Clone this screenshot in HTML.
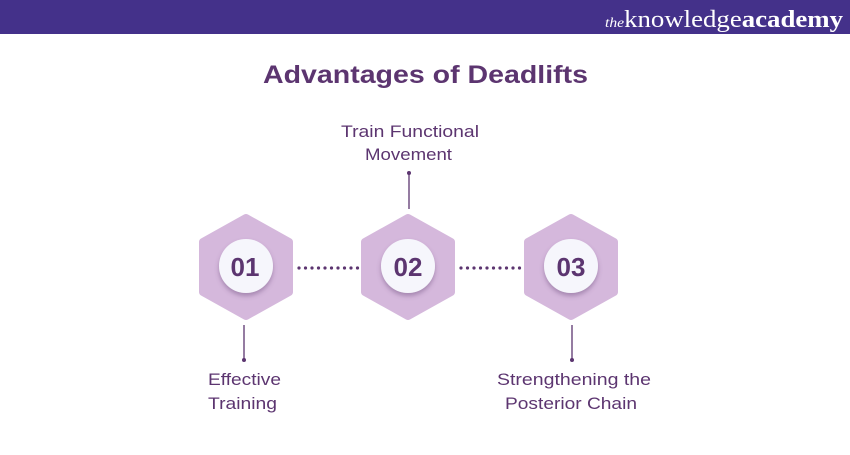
<!DOCTYPE html>
<html><head><meta charset="utf-8"><style>
html,body{margin:0;padding:0;background:#fff;}
body{width:850px;height:450px;overflow:hidden;}
</style></head><body>
<svg width="850" height="450" xmlns="http://www.w3.org/2000/svg" font-family="Liberation Sans, sans-serif">
<defs>
<filter id="sh" x="-30%" y="-30%" width="160%" height="170%"><feDropShadow dx="0" dy="3" stdDeviation="2.5" flood-color="#6a4a7a" flood-opacity="0.45"/></filter>
</defs>
<rect x="0" y="0" width="850" height="34" fill="#44318a"/>
<text x="605" y="27" fill="#fff" font-family="Liberation Serif, serif" font-size="24" textLength="238" lengthAdjust="spacingAndGlyphs"><tspan font-size="14" font-style="italic">the</tspan><tspan>knowledge</tspan><tspan font-weight="bold">academy</tspan></text>
<text x="263" y="83" fill="#5c3570" font-size="25" font-weight="bold" textLength="325" lengthAdjust="spacingAndGlyphs">Advantages of Deadlifts</text>
<g fill="#5c3570">
<circle cx="299" cy="268" r="1.6"/><circle cx="305.5" cy="268" r="1.6"/><circle cx="312" cy="268" r="1.6"/><circle cx="318.5" cy="268" r="1.6"/><circle cx="325" cy="268" r="1.6"/><circle cx="331.5" cy="268" r="1.6"/><circle cx="338" cy="268" r="1.6"/><circle cx="344.5" cy="268" r="1.6"/><circle cx="351" cy="268" r="1.6"/><circle cx="357.5" cy="268" r="1.6"/>
<circle cx="461" cy="268" r="1.6"/><circle cx="467.5" cy="268" r="1.6"/><circle cx="474" cy="268" r="1.6"/><circle cx="480.5" cy="268" r="1.6"/><circle cx="487" cy="268" r="1.6"/><circle cx="493.5" cy="268" r="1.6"/><circle cx="500" cy="268" r="1.6"/><circle cx="506.5" cy="268" r="1.6"/><circle cx="513" cy="268" r="1.6"/><circle cx="519.5" cy="268" r="1.6"/>
</g>
<g fill="#d5b8dc" stroke="#d5b8dc" stroke-width="8" stroke-linejoin="round">
<path d="M246,218 L289,242 L289,292 L246,316 L203,292 L203,242 Z"/>
<path d="M408,218 L451,242 L451,292 L408,316 L365,292 L365,242 Z"/>
<path d="M571,218 L614,242 L614,292 L571,316 L528,292 L528,242 Z"/>
</g>
<g fill="#f6f6fc" filter="url(#sh)">
<circle cx="246" cy="266" r="27"/><circle cx="408" cy="266" r="27"/><circle cx="571" cy="266" r="27"/>
</g>
<g fill="#5c3570" font-size="26" font-weight="bold" text-anchor="middle">
<text x="245" y="276">01</text><text x="408" y="276">02</text><text x="571" y="276">03</text>
</g>
<g stroke="#5c3570" stroke-width="1.3">
<line x1="409" y1="173" x2="409" y2="209"/>
<line x1="244" y1="325" x2="244" y2="360"/>
<line x1="572" y1="325" x2="572" y2="360"/>
</g>
<g fill="#5c3570"><circle cx="409" cy="173" r="2"/><circle cx="244" cy="360" r="2"/><circle cx="572" cy="360" r="2"/></g>
<g fill="#5c3570" font-size="17">
<text x="341" y="137" textLength="138" lengthAdjust="spacingAndGlyphs">Train Functional</text>
<text x="365" y="160" textLength="87" lengthAdjust="spacingAndGlyphs">Movement</text>
<text x="208" y="385" textLength="73" lengthAdjust="spacingAndGlyphs">Effective</text>
<text x="208" y="409" textLength="69" lengthAdjust="spacingAndGlyphs">Training</text>
<text x="497" y="385" textLength="154" lengthAdjust="spacingAndGlyphs">Strengthening the</text>
<text x="505" y="409" textLength="132" lengthAdjust="spacingAndGlyphs">Posterior Chain</text>
</g>
</svg>
</body></html>
